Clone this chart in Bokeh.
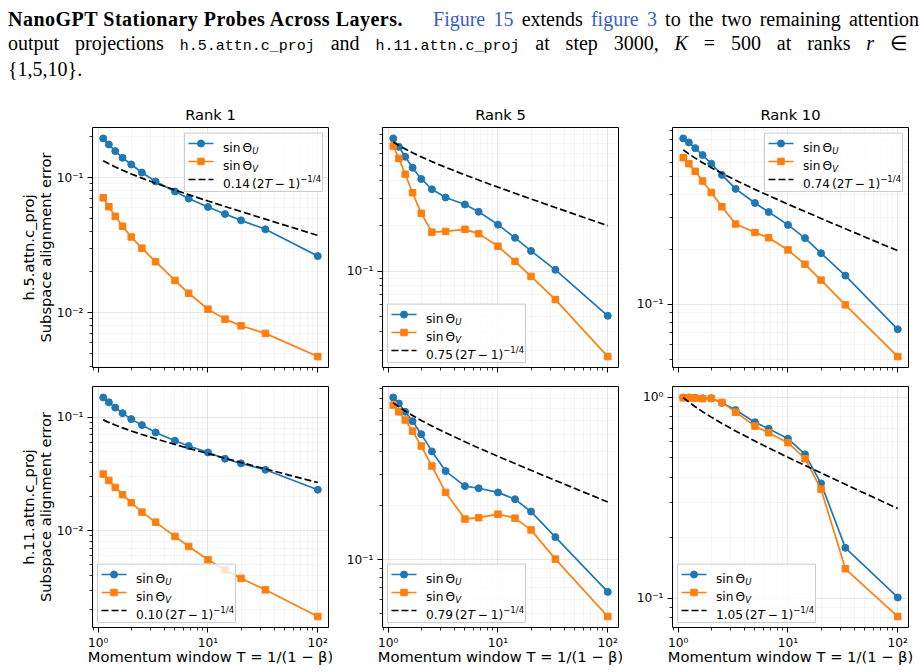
import math
from bokeh.plotting import figure
from bokeh.models import FixedTicker, Range1d, LinearScale, Div
from bokeh.layouts import column, row
from bokeh.embed import file_html
from bokeh.resources import INLINE
from bokeh.core.properties import value

# ---------------- data ----------------
T = [1.111, 1.25, 1.429, 1.667, 2.0, 2.5, 3.333, 5.0, 6.667, 10.0, 14.29, 20.0, 33.33, 100.0]

layers = ["h.5.attn.c_proj", "h.11.attn.c_proj"]
ranks = [1, 5, 10]

h5_r1_U = [0.195, 0.176, 0.157, 0.140, 0.125, 0.109, 0.0935, 0.0789, 0.0700, 0.0605, 0.0537, 0.0482, 0.0414, 0.0262]
h5_r1_V = [0.0708, 0.0608, 0.0516, 0.0436, 0.0363, 0.0300, 0.0238, 0.0173, 0.0139, 0.0106, 0.00894, 0.00798, 0.00701, 0.00472]
h5_r5_U = [0.755, 0.664, 0.571, 0.483, 0.407, 0.348, 0.307, 0.276, 0.247, 0.203, 0.166, 0.136, 0.102, 0.0506]
h5_r5_V = [0.672, 0.557, 0.437, 0.330, 0.241, 0.181, 0.183, 0.189, 0.177, 0.146, 0.116, 0.0923, 0.0648, 0.0272]
h5_r10_U = [0.813, 0.773, 0.719, 0.659, 0.591, 0.513, 0.430, 0.360, 0.321, 0.273, 0.231, 0.191, 0.144, 0.0731]
h5_r10_V = [0.637, 0.591, 0.537, 0.475, 0.411, 0.343, 0.276, 0.248, 0.232, 0.199, 0.166, 0.136, 0.0995, 0.0518]
h11_r1_U = [0.150, 0.136, 0.122, 0.109, 0.0966, 0.0855, 0.0737, 0.0623, 0.0559, 0.0491, 0.0432, 0.0393, 0.0345, 0.0230]
h11_r1_V = [0.0316, 0.0278, 0.0241, 0.0208, 0.0177, 0.0146, 0.0119, 0.00891, 0.00727, 0.00554, 0.00450, 0.00380, 0.00301, 0.00175]
h11_r5_U = [0.806, 0.746, 0.670, 0.594, 0.503, 0.403, 0.313, 0.258, 0.251, 0.238, 0.218, 0.186, 0.134, 0.0663]
h11_r5_V = [0.731, 0.670, 0.603, 0.523, 0.432, 0.334, 0.238, 0.169, 0.172, 0.180, 0.171, 0.147, 0.101, 0.0483]
h11_r10_U = [1.0, 1.0, 0.996, 0.990, 0.990, 0.940, 0.865, 0.753, 0.698, 0.623, 0.520, 0.373, 0.178, 0.1007]
h11_r10_V = [0.996, 0.996, 0.993, 0.986, 0.990, 0.945, 0.845, 0.720, 0.667, 0.595, 0.495, 0.349, 0.140, 0.0809]

# reference-curve coefficients c in c*(2T-1)^(-1/4)
ref_coef_h5 = [0.14, 0.75, 0.74]
ref_coef_h11 = [0.10, 0.79, 1.05]

legend_loc_h5 = ["upper right", "lower left", "upper right"]
legend_loc_h11 = ["lower left", "lower left", "lower left"]

y_tick_values = [1e-3, 1e-2, 1e-1, 1e0, 1e1]
y_tick_labels = ["10\u207b\u00b3", "10\u207b\u00b2", "10\u207b\u00b9", "10\u2070", "10\u00b9"]
x_tick_values = [1.0, 10.0, 100.0]
x_tick_labels = ["10\u2070", "10\u00b9", "10\u00b2"]

x_label = "Momentum window T = 1/(1 \u2212 \u03b2)"
y_label = "Subspace alignment error"

series_U = [[h5_r1_U, h5_r5_U, h5_r10_U], [h11_r1_U, h11_r5_U, h11_r10_U]]
series_V = [[h5_r1_V, h5_r5_V, h5_r10_V], [h11_r1_V, h11_r5_V, h11_r10_V]]
coefs = [ref_coef_h5, ref_coef_h11]
leg_locs = [legend_loc_h5, legend_loc_h11]

# ---------------- style ----------------
BLUE = "#1f77b4"
ORANGE = "#ff7f0e"
LW = 1.7
FONT = "DejaVu Sans"
TICK_FS = 12.2
LEG_FS = 12.2
LAB_FS = 14.7

# DejaVu Sans advance widths (em)
W = {" ": 0.318, "T": 0.611, "1": 0.636, "(": 0.390, ")": 0.390, "\u2212": 0.838,
     "0": 0.636, ".": 0.318, "2": 0.636, "3": 0.636, "4": 0.636, "5": 0.636, "6": 0.636,
     "7": 0.636, "8": 0.636, "9": 0.636, "s": 0.521, "i": 0.278, "n": 0.634, "\u0398": 0.787}


def em(s):
    return sum(W.get(ch, 0.6) for ch in s)


def log_range(vals, margin=0.05):
    lo = math.log10(min(vals))
    hi = math.log10(max(vals))
    pad = (hi - lo) * margin
    return 10 ** (lo - pad), 10 ** (hi + pad)


FW = 236
FH = [240, 241]
BL = [92, 50, 50]
BR = [4, 4, 14]
BT = [37, 9]
BB = [10, 45]


def minor_list(lo, hi):
    out = []
    for d in range(-4, 3):
        for k in range(2, 10):
            v = k * 10.0 ** d
            if lo <= v <= hi:
                out.append(v)
    return out


def add_legend(p, fh, loc, coef):
    kw = dict(x_range_name="fx", y_range_name="fy")
    bw, bh = 138.0, 58.4
    if loc == "upper right":
        bx, by = FW - 6.0 - bw, 5.6
    else:
        bx, by = 5.0, fh - 5.0 - bh
    p.quad(left=[bx], right=[bx + bw], top=[by], bottom=[by + bh], fill_color="white",
           fill_alpha=0.8, line_color="#cccccc", line_width=1, **kw)
    rows = [by + 10.4 + 18.0 * i for i in range(3)]
    hx0, hx1 = bx + 4.0, bx + 29.0
    hxm = (hx0 + hx1) / 2
    p.line([hx0, hx1], [rows[0], rows[0]], color=BLUE, line_width=LW, **kw)
    p.scatter([hxm], [rows[0]], marker="circle", size=7, color=BLUE, line_width=1, **kw)
    p.line([hx0, hx1], [rows[1], rows[1]], color=ORANGE, line_width=LW, **kw)
    p.scatter([hxm], [rows[1]], marker="square", size=6.5, color=ORANGE, line_width=1, **kw)
    p.line([hx0, hx1], [rows[2], rows[2]], color="black", line_width=LW, line_dash="7 3", **kw)

    tx = bx + 38.4
    base = 4.3
    cs = f"{coef:.2f}"
    w0 = em(cs) + 0.167
    x_T = w0 + em("(2")
    x_m = x_T + 0.611 + 0.222
    x_1 = x_m + 0.838 + 0.222
    x_sup = x_1 + em("1)")
    pieces = [
        (0, "sin", 0.0, 1.0, 0.0, "normal"),
        (0, "\u0398", 1.600, 1.0, 0.0, "normal"),
        (0, "U", 2.400, 0.7, 3.2, "italic"),
        (1, "sin", 0.0, 1.0, 0.0, "normal"),
        (1, "\u0398", 1.600, 1.0, 0.0, "normal"),
        (1, "V", 2.400, 0.7, 3.2, "italic"),
        (2, cs, 0.0, 1.0, 0.0, "normal"),
        (2, "(2", w0, 1.0, 0.0, "normal"),
        (2, "T", x_T, 1.0, 0.0, "italic"),
        (2, "\u2212", x_m, 1.0, 0.0, "normal"),
        (2, "1)", x_1, 1.0, 0.0, "normal"),
        (2, "\u22121/4", x_sup, 0.7, -5.2, "normal"),
    ]
    for r, txt, xe, sc, dy, st in pieces:
        p.text(x=[tx + xe * LEG_FS], y=[rows[r] + base + dy], text=[txt],
               text_font=value(FONT), text_font_size=value(f"{LEG_FS * sc:.2f}px"),
               text_font_style=value(st), text_align="left", text_baseline="alphabetic",
               text_color="black", **kw)


def make_panel(r, c):
    fh = FH[r]
    U = series_U[r][c]
    V = series_V[r][c]
    coef = coefs[r][c]
    ref = [coef * (2 * t - 1) ** -0.25 for t in T]
    xr = log_range(T)
    yr = log_range(U + V + ref)
    p = figure(width=BL[c] + FW + BR[c], height=BT[r] + fh + BB[r],
               x_axis_type="log", y_axis_type="log",
               x_range=Range1d(*xr), y_range=Range1d(*yr),
               output_backend="svg", toolbar_location=None,
               min_border_left=BL[c], min_border_right=BR[c],
               min_border_top=BT[r], min_border_bottom=BB[r])
    p.background_fill_color = "white"
    p.border_fill_color = "white"
    p.outline_line_color = "black"
    p.outline_line_width = 1
    p.extra_x_ranges = {"fx": Range1d(0, FW)}
    p.extra_y_ranges = {"fy": Range1d(fh, 0)}
    p.extra_x_scales = {"fx": LinearScale()}
    p.extra_y_scales = {"fy": LinearScale()}

    xt = FixedTicker(ticks=x_tick_values, minor_ticks=minor_list(*xr))
    yt = FixedTicker(ticks=y_tick_values, minor_ticks=minor_list(*yr))
    p.xaxis.ticker = xt
    p.yaxis.ticker = yt
    p.xgrid.ticker = xt
    p.ygrid.ticker = yt
    p.yaxis.major_label_overrides = dict(zip(y_tick_values, y_tick_labels))
    if r == 0:
        p.xaxis.major_label_overrides = {v: "" for v in x_tick_values}
    else:
        p.xaxis.major_label_overrides = dict(zip(x_tick_values, x_tick_labels))

    for ax in (p.xaxis, p.yaxis):
        ax.axis_line_color = None
        ax.major_tick_line_color = "black"
        ax.minor_tick_line_color = "black"
        ax.major_tick_line_width = 1
        ax.minor_tick_line_width = 0.8
        ax.major_tick_in = 0
        ax.minor_tick_in = 0
        ax.major_tick_out = 5
        ax.minor_tick_out = 3
        ax.major_label_text_font = FONT
        ax.major_label_text_font_size = f"{TICK_FS}px"
        ax.major_label_text_color = "black"
        ax.major_label_standoff = 4
        ax.axis_label_text_font = FONT
        ax.axis_label_text_font_size = f"{LAB_FS}px"
        ax.axis_label_text_font_style = "normal"
        ax.axis_label_text_color = "black"
    if r == 0:
        p.xaxis.major_label_text_font_size = "1px"
        p.xaxis.major_label_standoff = 0
    else:
        p.xaxis.axis_label = x_label
        p.xaxis.major_label_standoff = 3
        p.xaxis.axis_label_standoff = -5
    if c == 0:
        p.yaxis.axis_label = layers[r] + "\n" + y_label
        p.yaxis.axis_label_standoff = 0
        p.yaxis.axis_label_text_line_height = 1.0

    if r == 0:
        p.title.text = f"Rank {ranks[c]}"
        p.title.align = "center"
        p.title.text_font = FONT
        p.title.text_font_size = f"{LAB_FS}px"
        p.title.text_font_style = "normal"
        p.title.text_color = "black"
        p.title.standoff = 9

    for g in (p.xgrid, p.ygrid):
        g.grid_line_color = "#b0b0b0"
        g.grid_line_alpha = 0.4
        g.grid_line_width = 0.8
        g.minor_grid_line_color = "#b0b0b0"
        g.minor_grid_line_alpha = 0.22
        g.minor_grid_line_width = 0.6

    # data
    p.line(T, U, color=BLUE, line_width=LW)
    p.scatter(T, U, marker="circle", size=7, color=BLUE, line_width=1)
    p.line(T, V, color=ORANGE, line_width=LW)
    p.scatter(T, V, marker="square", size=6.5, color=ORANGE, line_width=1)
    p.line(T, ref, color="black", line_width=LW, line_dash="7 3")

    add_legend(p, fh, leg_locs[r][c], coef)
    return p


figs = [[make_panel(r, c) for c in range(3)] for r in range(2)]

LINK = "color:#3a5fbf"
MONO = "font-family:'Liberation Mono','DejaVu Sans Mono',monospace;font-size:15px"
JUST = "text-align:justify;text-align-last:justify;white-space:nowrap;"
caption_html = (
    "<div style=\"font-family:'Liberation Serif','Times New Roman',serif;font-size:20px;"
    "line-height:23.5px;color:#000;width:907px;padding:8px 0 0 8px;\">"
    "<div style=\"white-space:nowrap;text-align:left;\">"
    "<b style=\"letter-spacing:0.5px\">NanoGPT Stationary Probes Across Layers.</b>"
    "<span style=\"display:inline-block;width:30px\"></span>"
    f"<span style=\"word-spacing:3.2px\"><span style=\"{LINK}\">Figure 15</span> extends "
    f"<span style=\"{LINK}\">figure 3</span> to the two remaining attention</span></div>"
    f"<div style=\"{JUST}\">output projections <span style=\"{MONO}\">h.5.attn.c_proj</span> and "
    f"<span style=\"{MONO}\">h.11.attn.c_proj</span> at step 3000, <i>K</i> = 500 at ranks <i>r</i> \u2208</div>"
    "<div>{1,5,10}.</div>"
    "</div>"
)
caption = Div(text=caption_html, width=922, height=90, margin=(0, 0, 0, 0))

layout = column(caption, row(*figs[0]), row(*figs[1]))
open("out.html", "w").write(file_html(layout, INLINE))
